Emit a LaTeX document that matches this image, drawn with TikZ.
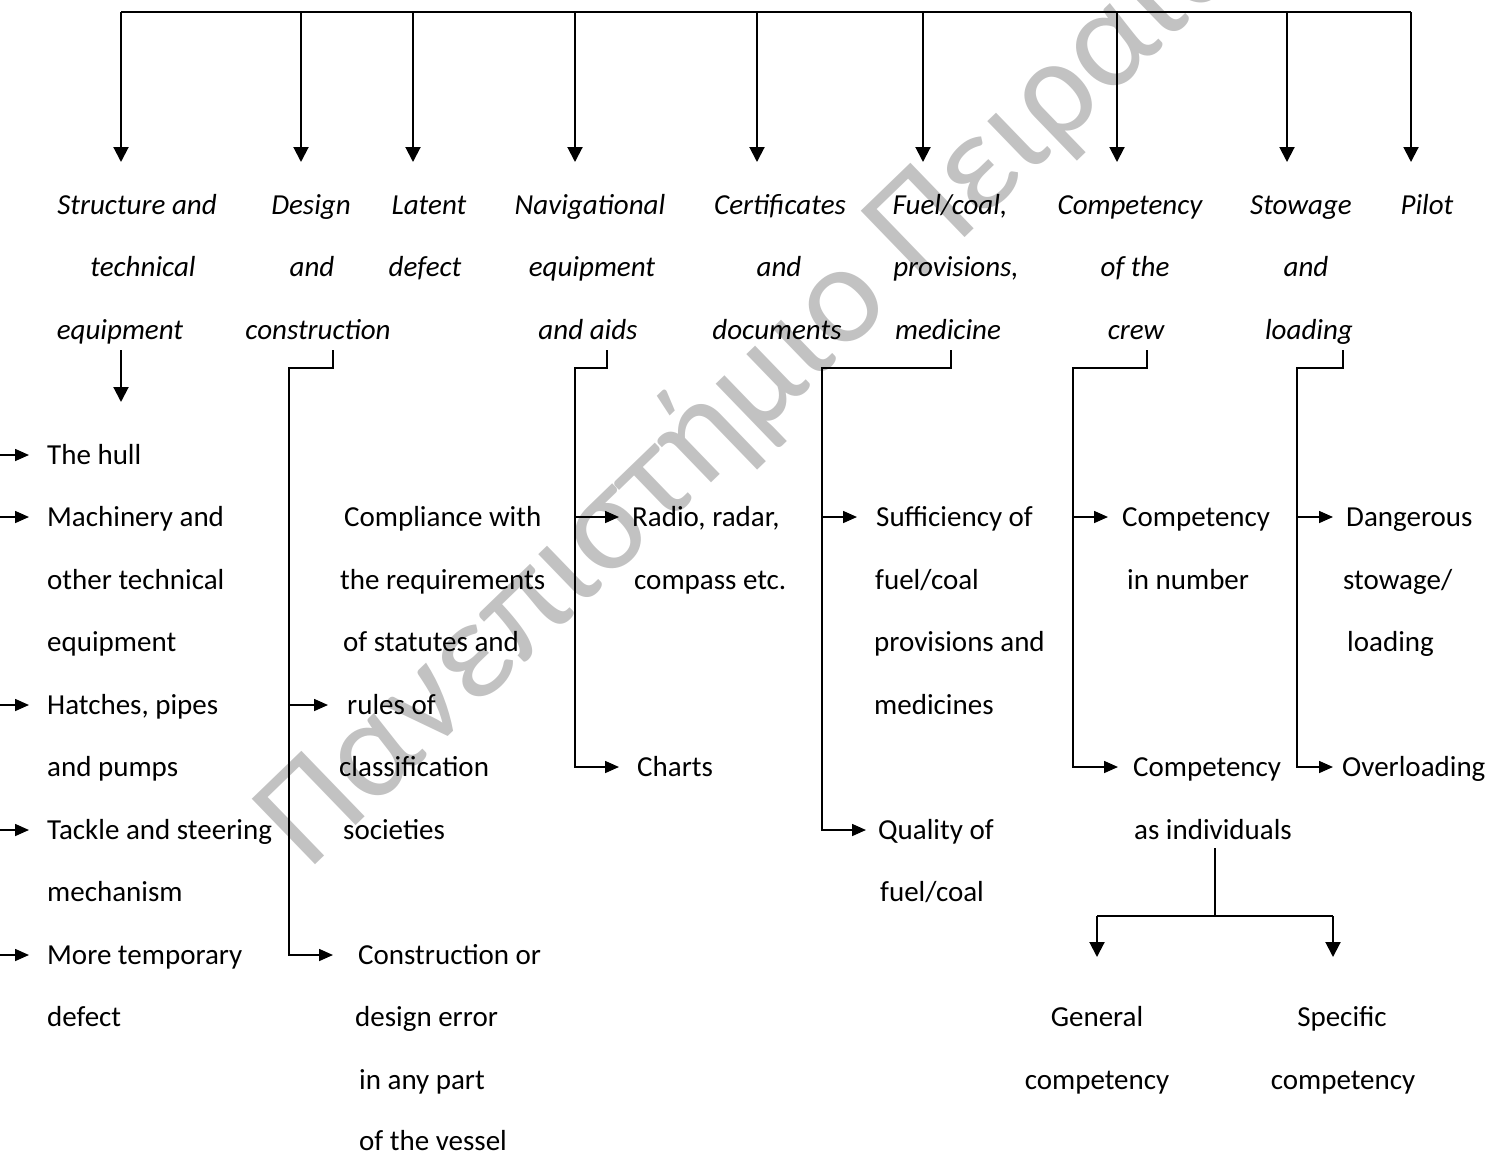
\documentclass[tikz,border=0pt]{standalone}
\usepackage{fontspec}
\setmainfont{Carlito}
\usetikzlibrary{arrows.meta}
\begin{document}
\begin{tikzpicture}[x=1pt,y=-1pt,
  font=\fontsize{29}{35}\selectfont,
  lbl/.style={anchor=base, inner sep=0, font=\fontsize{29}{35}\selectfont\itshape},
  txt/.style={anchor=base west, inner sep=0},
  bus/.style={line width=2pt},
  mainarr/.style={line width=2pt, -{Triangle[length=15pt,width=15pt]}},
  brk/.style={line width=1.6pt},
  brarr/.style={line width=1.6pt, -{Triangle[length=14pt,width=12pt]}},
]
\useasboundingbox (0,0) rectangle (1504,1154);
% watermark
\begin{scope}
\clip (0,0) rectangle (1504,1154);
\node[rotate=44, anchor=base west, text=black!24, inner sep=0, font=\fontsize{142}{142}\selectfont] (wm) at (308,872) {Πανεπιστήμιο Πειραιώς};
\end{scope}

% top bus
\coordinate (busL) at (121,12);
\coordinate (busR) at (1411,12);
\draw[bus] (busL) -- (busR);
\foreach \n/\x in {S/121,D/301,L/413,N/575,C/757,F/923,W/1117,T/1287,P/1411}{
  \coordinate (top\n) at (\x,12);
  \coordinate (tip\n) at (\x,162);
  \draw[mainarr] (top\n) -- (tip\n);
}

% header labels
\node[lbl] (hS1) at (137,214) {Structure and};
\node[lbl] (hS2) at (143,276) {technical};
\node[lbl] (hS3) at (120,339) {equipment};
\node[lbl] (hD1) at (311,214) {Design};
\node[lbl] (hD2) at (312,276) {and};
\node[lbl] (hD3) at (318,339) {construction};
\node[lbl] (hL1) at (429,214) {Latent};
\node[lbl] (hL2) at (425,276) {defect};
\node[lbl] (hN1) at (590,214) {Navigational};
\node[lbl] (hN2) at (592,276) {equipment};
\node[lbl] (hN3) at (588,339) {and aids};
\node[lbl] (hC1) at (780,214) {Certificates};
\node[lbl] (hC2) at (779,276) {and};
\node[lbl] (hC3) at (777,339) {documents};
\node[lbl] (hF1) at (950,214) {Fuel/coal,};
\node[lbl] (hF2) at (956,276) {provisions,};
\node[lbl] (hF3) at (948,339) {medicine};
\node[lbl] (hW1) at (1130,214) {Competency};
\node[lbl] (hW2) at (1135,276) {of the};
\node[lbl] (hW3) at (1136,339) {crew};
\node[lbl] (hT1) at (1301,214) {Stowage};
\node[lbl] (hT2) at (1306,276) {and};
\node[lbl] (hT3) at (1309,339) {loading};
\node[lbl] (hP1) at (1427,214) {Pilot};

% structure branch
\coordinate (sA) at (121,350);
\coordinate (sB) at (121,402);
\draw[mainarr] (sA) -- (sB);
\foreach \i/\y in {1/455,2/517,3/705,4/830,5/955}{
  \coordinate (sl\i) at (0,\y);
  \coordinate (sr\i) at (29,\y);
  \draw[brarr] (sl\i) -- (sr\i);
}
\node[txt] (s1) at (47,464) {The hull};
\node[txt] (s2) at (47,526) {Machinery and};
\node[txt] (s3) at (47,589) {other technical};
\node[txt] (s4) at (47,651) {equipment};
\node[txt] (s5) at (47,714) {Hatches, pipes};
\node[txt] (s6) at (47,776) {and pumps};
\node[txt] (s7) at (47,839) {Tackle and steering};
\node[txt] (s8) at (47,901) {mechanism};
\node[txt] (s9) at (47,964) {More temporary};
\node[txt] (s10) at (47,1026) {defect};

% design branch
\coordinate (dA) at (333,350);
\coordinate (dB) at (333,368);
\coordinate (dC) at (289,368);
\coordinate (dM) at (289,705);
\coordinate (dE) at (289,955);
\coordinate (dMt) at (328,705);
\coordinate (dEt) at (333,955);
\draw[brk] (dA) -- (dB) -- (dC) -- (dE);
\draw[brarr] (dC) -- (dE) -- (dEt);
\draw[brarr] (dM) -- (dMt);
\node[txt] (d1) at (344,526) {Compliance with};
\node[txt] (d2) at (340,589) {the requirements};
\node[txt] (d3) at (343,651) {of statutes and};
\node[txt] (d4) at (347,714) {rules of};
\node[txt] (d5) at (339,776) {classification};
\node[txt] (d6) at (343,839) {societies};
\node[txt] (d7) at (358,964) {Construction or};
\node[txt] (d8) at (355,1026) {design error};
\node[txt] (d9) at (359,1089) {in any part};
\node[txt] (d10) at (359,1150) {of the vessel};

% navigational branch
\coordinate (nA) at (607,350);
\coordinate (nB) at (607,368);
\coordinate (nC) at (575,368);
\coordinate (nM) at (575,517);
\coordinate (nE) at (575,767);
\coordinate (nMt) at (619,517);
\coordinate (nEt) at (619,767);
\draw[brk] (nA) -- (nB) -- (nC) -- (nE);
\draw[brarr] (nC) -- (nE) -- (nEt);
\draw[brarr] (nM) -- (nMt);
\node[txt] (n1) at (632,526) {Radio, radar,};
\node[txt] (n2) at (634,589) {compass etc.};
\node[txt] (n3) at (637,776) {Charts};

% fuel branch
\coordinate (fA) at (951,350);
\coordinate (fB) at (951,368);
\coordinate (fC) at (822,368);
\coordinate (fM) at (822,517);
\coordinate (fE) at (822,830);
\coordinate (fMt) at (857,517);
\coordinate (fEt) at (866,830);
\draw[brk] (fA) -- (fB) -- (fC) -- (fE);
\draw[brarr] (fC) -- (fE) -- (fEt);
\draw[brarr] (fM) -- (fMt);
\node[txt] (f1) at (876,526) {Sufficiency of};
\node[txt] (f2) at (875,589) {fuel/coal};
\node[txt] (f3) at (874,651) {provisions and};
\node[txt] (f4) at (874,714) {medicines};
\node[txt] (f5) at (878,839) {Quality of};
\node[txt] (f6) at (880,901) {fuel/coal};

% crew branch
\coordinate (wA) at (1147,350);
\coordinate (wB) at (1147,368);
\coordinate (wC) at (1073,368);
\coordinate (wM) at (1073,517);
\coordinate (wE) at (1073,767);
\coordinate (wMt) at (1108,517);
\coordinate (wEt) at (1118,767);
\draw[brk] (wA) -- (wB) -- (wC) -- (wE);
\draw[brarr] (wC) -- (wE) -- (wEt);
\draw[brarr] (wM) -- (wMt);
\node[txt] (w1) at (1122,526) {Competency};
\node[txt] (w2) at (1127,589) {in number};
\node[txt] (w3) at (1133,776) {Competency};
\node[txt] (w4) at (1134,839) {as individuals};

% individuals split
\coordinate (iA) at (1215,848);
\coordinate (iB) at (1215,916);
\coordinate (iL) at (1097,916);
\coordinate (iR) at (1333,916);
\coordinate (iLt) at (1097,957);
\coordinate (iRt) at (1333,957);
\draw[brk] (iA) -- (iB);
\draw[bus] (iL) -- (iR);
\draw[mainarr] (iL) -- (iLt);
\draw[mainarr] (iR) -- (iRt);
\node[lbl, font=\fontsize{29}{35}\selectfont] (g1) at (1097,1026) {General};
\node[lbl, font=\fontsize{29}{35}\selectfont] (g2) at (1097,1089) {competency};
\node[lbl, font=\fontsize{29}{35}\selectfont] (p1) at (1342,1026) {Specific};
\node[lbl, font=\fontsize{29}{35}\selectfont] (p2) at (1343,1089) {competency};

% stowage branch
\coordinate (tA) at (1343,350);
\coordinate (tB) at (1343,368);
\coordinate (tC) at (1297,368);
\coordinate (tM) at (1297,517);
\coordinate (tE) at (1297,767);
\coordinate (tMt) at (1333,517);
\coordinate (tEt) at (1333,767);
\draw[brk] (tA) -- (tB) -- (tC) -- (tE);
\draw[brarr] (tC) -- (tE) -- (tEt);
\draw[brarr] (tM) -- (tMt);
\node[txt] (t1) at (1346,526) {Dangerous};
\node[txt] (t2) at (1343,589) {stowage/};
\node[txt] (t3) at (1347,651) {loading};
\node[txt] (t4) at (1342,776) {Overloading};
\end{tikzpicture}
\end{document}
